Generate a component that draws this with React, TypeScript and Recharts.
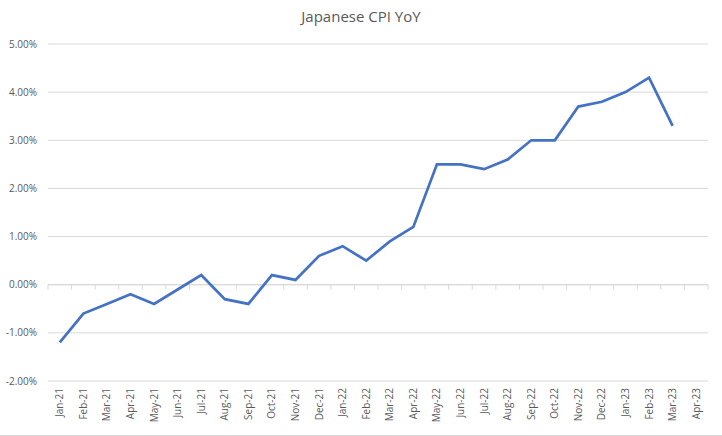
import { LineChart, Line, XAxis, YAxis, CartesianGrid, ReferenceLine } from 'recharts';

const months = [
  'Jan-21', 'Feb-21', 'Mar-21', 'Apr-21', 'May-21', 'Jun-21', 'Jul-21', 'Aug-21', 'Sep-21', 'Oct-21', 'Nov-21', 'Dec-21',
  'Jan-22', 'Feb-22', 'Mar-22', 'Apr-22', 'May-22', 'Jun-22', 'Jul-22', 'Aug-22', 'Sep-22', 'Oct-22', 'Nov-22', 'Dec-22',
  'Jan-23', 'Feb-23', 'Mar-23', 'Apr-23',
];

// CPI year-on-year, in percent (Apr-23 not yet published)
const cpiYoY: (number | null)[] = [
  -1.2, -0.6, -0.4, -0.2, -0.4, -0.1, 0.2, -0.3, -0.4, 0.2, 0.1, 0.6,
  0.8, 0.5, 0.9, 1.2, 2.5, 2.5, 2.4, 2.6, 3.0, 3.0, 3.7, 3.8,
  4.0, 4.3, 3.3, null,
];

const yTicks = [-2, -1, 0, 1, 2, 3, 4, 5];

const data = months.map((month, i) => ({ month, cpi: cpiYoY[i] }));

const GRID = '#d9d9d9';
const TEXT = '#595959';
const FONT = "'Open Sans', sans-serif";

function MonthTick({ x, y, payload }: any) {
  return (
    <g transform={`translate(${x},${y})`}>
      <text transform="rotate(-90)" textAnchor="end" dy="0.35em" fontSize={10} fill={TEXT} fontFamily={FONT}>
        {payload.value}
      </text>
    </g>
  );
}

// zero line with small category-boundary tick marks, like the Excel axis
function ZeroAxis(props: any) {
  const { x1, x2, y1 } = props;
  const n = months.length;
  const step = (x2 - x1) / n;
  const marks = [];
  for (let i = 0; i <= n; i++) {
    const tx = x1 + step * i;
    marks.push(<line key={i} x1={tx} x2={tx} y1={y1} y2={y1 + 5} stroke={GRID} strokeWidth={1} />);
  }
  return (
    <g>
      <line x1={x1} x2={x2} y1={y1} y2={y1} stroke={GRID} strokeWidth={1} />
      {marks}
    </g>
  );
}

export default function App() {
  return (
    <div style={{ position: 'absolute', left: 0, top: 0, width: 722, height: 436, background: '#fff' }}>
      <div
        style={{
          position: 'absolute',
          top: 6,
          left: 0,
          width: 722,
          textAlign: 'center',
          fontFamily: FONT,
          fontSize: 15,
          color: TEXT,
        }}
      >
        Japanese CPI YoY
      </div>
      <LineChart width={722} height={436} data={data} margin={{ top: 44, right: 14, bottom: 0, left: 0 }}>
        <CartesianGrid horizontal vertical={false} stroke={GRID} strokeWidth={1} />
        <XAxis
          dataKey="month"
          interval={0}
          tickLine={false}
          axisLine={false}
          tickSize={0}
          tickMargin={7}
          height={55}
          padding={{ left: 11.8, right: 11.8 }}
          tick={<MonthTick />}
        />
        <YAxis
          domain={[-2, 5]}
          ticks={yTicks}
          width={48}
          tickLine={false}
          axisLine={false}
          tickSize={0}
          tickMargin={11}
          tickFormatter={(v: number) => `${v.toFixed(2)}%`}
          tick={{ fontSize: 10, fill: TEXT, fontFamily: FONT }}
        />
        <ReferenceLine y={0} shape={<ZeroAxis />} />
        <Line
          type="linear"
          dataKey="cpi"
          stroke="#4472c4"
          strokeWidth={2.75}
          dot={false}
          isAnimationActive={false}
        />
      </LineChart>
      <div style={{ position: 'absolute', left: 0, top: 435, width: 722, height: 1, background: GRID }} />
    </div>
  );
}
